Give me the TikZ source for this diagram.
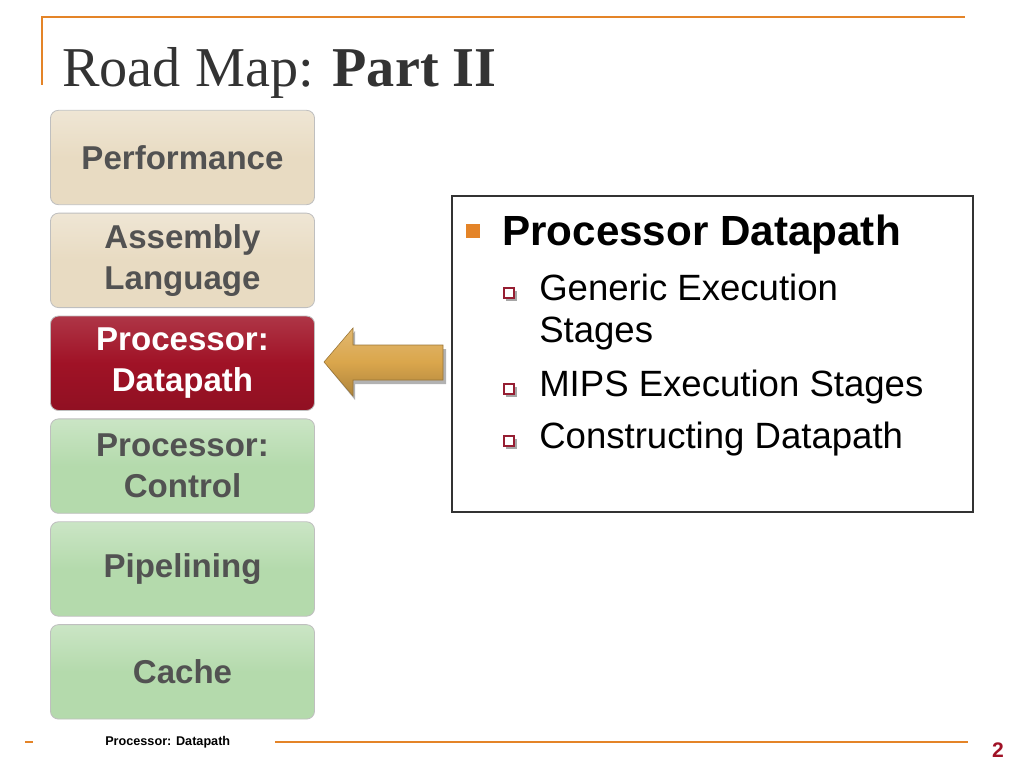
\documentclass[tikz,border=0pt]{standalone}
\usepackage{fontspec}
\setmainfont{Liberation Serif}
\setsansfont{Liberation Sans}
\usetikzlibrary{positioning}
\definecolor{rmorange}{RGB}{228,132,40}
\definecolor{rmtan}{RGB}{232,219,194}
\definecolor{rmred}{RGB}{160,18,38}
\definecolor{rmgreen}{RGB}{180,218,172}
\definecolor{rmgray}{RGB}{82,82,82}
\definecolor{rmgold}{RGB}{218,166,76}
\definecolor{rmbullet}{RGB}{150,30,50}
\tikzset{
  topic/.style={rounded corners=0.2cm, minimum width=6.6cm, minimum height=2.36cm,
    draw=black!25, line width=0.6pt, align=center, text=rmgray,
    font=\sffamily\bfseries\fontsize{23.5pt}{29pt}\selectfont},
  done/.style={topic, top color=rmtan!70!white, bottom color=rmtan, middle color=rmtan},
  now/.style={topic, top color=rmred!85!white, bottom color=rmred!90!black, middle color=rmred, text=white},
  next/.style={topic, top color=rmgreen!70!white, bottom color=rmgreen, middle color=rmgreen},
  item/.style={anchor=base west, inner sep=0pt, font=\sffamily\fontsize{26pt}{30pt}\selectfont},
  subbox/.style={draw=rmbullet, fill=white, line width=0.8pt, minimum size=0.25cm, inner sep=0pt}
}
\begin{document}
\begin{tikzpicture}[x=0.025cm,y=-0.025cm]
  \useasboundingbox (0,0) rectangle (1024,768);
  % title bar
  \draw[rmorange, line width=1.2pt] (42,85) -- (42,17) -- (965,17);
  \node[anchor=base west, inner sep=0pt, text=black!80, font=\fontsize{40pt}{44pt}\selectfont] (title) at (62,87) {Road Map: \textbf{Part II}};
  % topics
  \node[done] (perf) at (182.5,157.5) {Performance};
  \node[done, below=0.19cm of perf] (asm) {Assembly\\Language};
  \node[now, below=0.19cm of asm] (dp) {Processor:\\Datapath};
  \node[next, below=0.19cm of dp] (ctrl) {Processor:\\Control};
  \node[next, below=0.19cm of ctrl] (pipe) {Pipelining};
  \node[next, below=0.19cm of pipe] (cache) {Cache};
  % arrow
  \fill[black!30] (327,366) -- (355,331) -- (355,349) -- (446,349) -- (446,384) -- (355,384) -- (355,400) -- cycle;
  \shade[top color=rmgold!80!white, bottom color=rmgold!80!black, middle color=rmgold, draw=rmgold!70!black, line width=0.4pt]
    (324,362) -- (353,328) -- (353,345) -- (443,345) -- (443,380) -- (353,380) -- (353,396) -- cycle;
  % content box
  \draw[black!80, line width=0.8pt] (452,196) rectangle (973,512);
  \fill[rmorange] (466,224) rectangle (480,238);
  \node[item, font=\sffamily\bfseries\fontsize{30pt}{34pt}\selectfont] (head) at (502,245) {Processor Datapath};
  \fill[black!35] (505.5,290.5) rectangle (516.5,300.5);
  \node[subbox] (b1) at (509,293) {};
  \node[item] (genA) at (539,300) {Generic Execution};
  \node[item] (genB) at (539,342) {Stages};
  \fill[black!35] (505.5,386.5) rectangle (516.5,396.5);
  \node[subbox] (b2) at (509,389) {};
  \node[item] (mips) at (539,396) {MIPS Execution Stages};
  \fill[black!35] (505.5,438.5) rectangle (516.5,448.5);
  \node[subbox] (b3) at (509,441) {};
  \node[item] (cons) at (539,448) {Constructing Datapath};
  % footer
  \draw[rmorange, line width=1.6pt] (25,742) -- (33,742);
  \node[anchor=base west, inner sep=0pt, font=\sffamily\bfseries\fontsize{9pt}{10pt}\selectfont] (foot) at (105,745) {Processor: Datapath};
  \draw[rmorange, line width=1.6pt] (275,742) -- (968,742);
  \node[anchor=base, inner sep=0pt, text=rmred, font=\sffamily\bfseries\fontsize{15pt}{18pt}\selectfont] (page) at (998,757) {2};
\end{tikzpicture}
\end{document}
